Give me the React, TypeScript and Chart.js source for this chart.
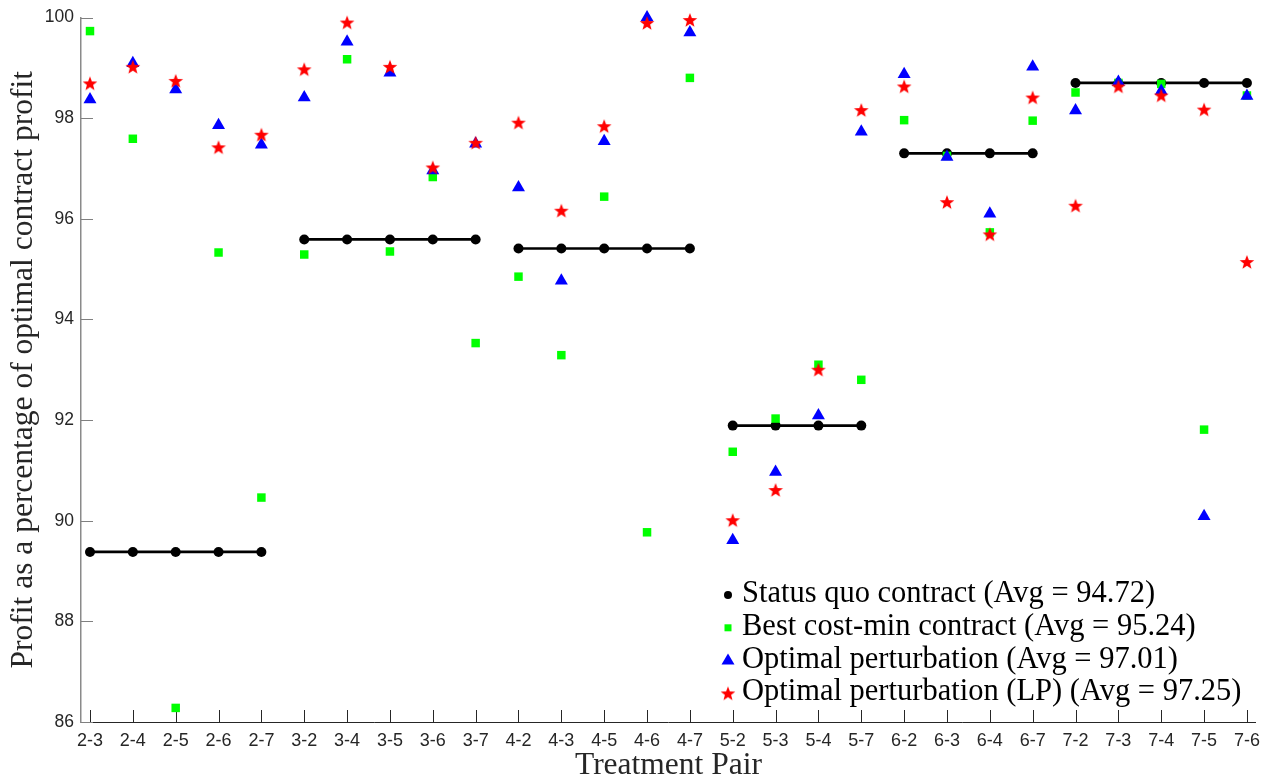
import React, { useEffect, useRef } from "react";
import { Chart, registerables } from "chart.js";

Chart.register(...registerables);

// ---------------- data ----------------
const categories = [
  "2-3", "2-4", "2-5", "2-6", "2-7",
  "3-2", "3-4", "3-5", "3-6", "3-7",
  "4-2", "4-3", "4-5", "4-6", "4-7",
  "5-2", "5-3", "5-4", "5-7",
  "6-2", "6-3", "6-4", "6-7",
  "7-2", "7-3", "7-4", "7-5", "7-6",
];

const statusQuo = [
  89.38, 89.38, 89.38, 89.38, 89.38,
  95.59, 95.59, 95.59, 95.59, 95.59,
  95.41, 95.41, 95.41, 95.41, 95.41,
  91.89, 91.89, 91.89, 91.89,
  97.3, 97.3, 97.3, 97.3,
  98.7, 98.7, 98.7, 98.7, 98.7,
];

const bestCostMin = [
  99.73, 97.59, 86.28, 95.33, 90.46,
  95.29, 99.17, 95.35, 96.83, 93.53,
  94.85, 93.29, 96.44, 89.77, 98.8,
  91.37, 92.03, 93.1, 92.8,
  97.96, 97.25, 95.73, 97.95,
  98.51, 98.7, 98.68, 91.81, 98.45,
];

const optimalPerturbation = [
  98.37, 99.09, 98.57, 97.86, 97.47,
  98.41, 99.52, 98.9, 96.96, 97.49,
  96.62, 94.77, 97.54, 100.0, 99.7,
  89.61, 90.97, 92.09, 97.73,
  98.87, 97.23, 96.1, 99.02,
  98.15, 98.72, 98.54, 90.09, 98.44,
];

const optimalPerturbationLP = [
  98.69, 99.02, 98.74, 97.42, 97.67,
  98.97, 99.9, 99.02, 97.02, 97.51,
  97.91, 96.16, 97.84, 99.89, 99.95,
  90.01, 90.61, 93.0, 98.16,
  98.63, 96.33, 95.69, 98.41,
  96.26, 98.63, 98.45, 98.17, 95.14,
];

const yTicks = [86, 88, 90, 92, 94, 96, 98, 100];

const seriesLabels = [
  "Status quo contract (Avg = 94.72)",
  "Best cost-min contract (Avg = 95.24)",
  "Optimal perturbation (Avg = 97.01)",
  "Optimal perturbation (LP) (Avg = 97.25)",
];

const yTitle = "Profit as a percentage of optimal contract profit";
const xTitle = "Treatment Pair";

// ---------------- helpers ----------------
const SERIF = "'Liberation Serif', 'Times New Roman', serif";
const SANS = "'Liberation Sans', Arial, sans-serif";

function makeStar(size: number, color: string): HTMLCanvasElement {
  const c = document.createElement("canvas");
  c.width = size;
  c.height = size;
  const g = c.getContext("2d")!;
  const cx = size / 2;
  const cy = size / 2 + 0.6;
  const R = size / 2 - 0.3;
  const r = R * 0.42;
  g.beginPath();
  for (let k = 0; k < 10; k++) {
    const ang = -Math.PI / 2 + (k * Math.PI) / 5;
    const rad = k % 2 === 0 ? R : r;
    g.lineTo(cx + rad * Math.cos(ang), cy + rad * Math.sin(ang));
  }
  g.closePath();
  g.fillStyle = color;
  g.fill();
  return c;
}

const toPoints = (arr: number[]) => arr.map((v, i) => ({ x: i, y: v }));

const insideTicks = {
  id: "insideTicks",
  beforeDatasetsDraw(chart: any) {
    const { ctx, chartArea, scales } = chart;
    ctx.save();
    ctx.lineWidth = 1;
    ctx.strokeStyle = "#262626";
    scales.x.ticks.forEach((t: any) => {
      const px = Math.round(scales.x.getPixelForValue(t.value)) + 0.5;
      ctx.beginPath();
      ctx.moveTo(px, chartArea.bottom);
      ctx.lineTo(px, chartArea.bottom - 12);
      ctx.stroke();
    });
    ctx.strokeStyle = "#808080";
    scales.y.ticks.forEach((t: any) => {
      const py = Math.round(scales.y.getPixelForValue(t.value)) + 0.5;
      ctx.beginPath();
      ctx.moveTo(chartArea.left, py);
      ctx.lineTo(chartArea.left + 12, py);
      ctx.stroke();
    });
    ctx.restore();
  },
};

const customLegend = {
  id: "customLegend",
  afterDraw(chart: any, _args: any, opts: any) {
    const { ctx } = chart;
    const { x, y, gap, textOffset, font, color, star } = opts;
    chart.data.datasets.forEach((ds: any, i: number) => {
      const cy = y + i * gap;
      ctx.save();
      if (i === 0) {
        ctx.fillStyle = "#000";
        ctx.beginPath();
        ctx.arc(x, cy, 4, 0, Math.PI * 2);
        ctx.fill();
      } else if (i === 1) {
        ctx.fillStyle = "#00ff00";
        ctx.fillRect(x - 3.5, cy - 3.5, 7, 7);
      } else if (i === 2) {
        ctx.fillStyle = "#0000ff";
        ctx.beginPath();
        ctx.moveTo(x, cy - 7);
        ctx.lineTo(x + 6.5, cy + 4);
        ctx.lineTo(x - 6.5, cy + 4);
        ctx.closePath();
        ctx.fill();
      } else {
        ctx.drawImage(star, x - star.width / 2, cy - star.height / 2);
      }
      ctx.fillStyle = color;
      ctx.font = font;
      ctx.textAlign = "left";
      ctx.textBaseline = "middle";
      ctx.fillText(ds.label, x + textOffset, cy - 1);
      ctx.restore();
    });
  },
};

export default function App() {
  const ref = useRef<HTMLCanvasElement>(null);

  useEffect(() => {
    const star = makeStar(16, "#ff0000");
    const chart = new Chart(ref.current!, {
      type: "scatter",
      data: {
        datasets: [
          {
            type: "line",
            label: seriesLabels[0],
            data: toPoints(statusQuo),
            showLine: true,
            borderColor: "#000",
            borderWidth: 2.6,
            backgroundColor: "#000",
            pointStyle: "circle",
            pointRadius: 5,
            pointBorderWidth: 0,
            clip: false,
            order: 4,
            segment: {
              borderColor: (c: any) =>
                categories[c.p0DataIndex][0] === categories[c.p1DataIndex][0]
                  ? "#000"
                  : "rgba(0,0,0,0)",
            },
          } as any,
          {
            label: seriesLabels[1],
            data: toPoints(bestCostMin),
            pointStyle: "rect",
            pointRadius: 6,
            pointBorderWidth: 0,
            backgroundColor: "#00ff00",
            borderColor: "#00ff00",
            clip: false,
            order: 3,
          } as any,
          {
            label: seriesLabels[2],
            data: toPoints(optimalPerturbation),
            pointStyle: "triangle",
            pointRadius: 7.5,
            pointBorderWidth: 0,
            backgroundColor: "#0000ff",
            borderColor: "#0000ff",
            clip: false,
            order: 2,
          } as any,
          {
            label: seriesLabels[3],
            data: toPoints(optimalPerturbationLP),
            pointStyle: star,
            pointRadius: 8,
            backgroundColor: "#ff0000",
            borderColor: "#ff0000",
            clip: false,
            order: 1,
          } as any,
        ],
      },
      options: {
        responsive: false,
        animation: false,
        devicePixelRatio: 1,
        events: [],
        layout: { padding: { left: 0, right: 6, top: 17, bottom: 0 } },
        plugins: {
          legend: { display: false },
          tooltip: { enabled: false },
          customLegend: {
            x: 728,
            y: 595,
            gap: 32.8,
            textOffset: 14,
            font: `30.5px ${SERIF}`,
            color: "#000",
            star,
          },
        } as any,
        scales: {
          x: {
            type: "linear",
            position: "bottom",
            min: -0.21,
            max: 27.21,
            afterBuildTicks: (scale: any) => {
              scale.ticks = categories.map((_, i) => ({ value: i }));
            },
            afterFit: (scale: any) => {
              scale.height = 54;
            },
            grid: { display: false, drawTicks: false },
            border: { display: true, color: "#262626", width: 1 },
            ticks: {
              autoSkip: false,
              maxRotation: 0,
              minRotation: 0,
              padding: 8,
              color: "#262626",
              font: { family: SANS, size: 18 },
              callback: (v: any) => categories[v] ?? "",
            },
            title: {
              display: true,
              text: xTitle,
              color: "#262626",
              font: { family: SERIF, size: 31.5, lineHeight: 1 },
              padding: { top: 0, bottom: -5 },
            },
          },
          y: {
            type: "linear",
            min: 86,
            max: 100,
            afterBuildTicks: (scale: any) => {
              scale.ticks = yTicks.map((v) => ({ value: v }));
            },
            afterFit: (scale: any) => {
              scale.width = 81;
            },
            grid: { display: false, drawTicks: false },
            border: { display: true, color: "#8a8a8a", width: 1.5 },
            ticks: {
              padding: 7,
              color: "#262626",
              font: { family: SANS, size: 17.5 },
              callback: (v: any) => String(v),
            },
            title: {
              display: true,
              text: yTitle,
              color: "#262626",
              font: { family: SERIF, size: 31.5, lineHeight: 1 },
              padding: { top: 8, bottom: 0 },
            },
          },
        },
      },
      plugins: [insideTicks, customLegend],
    } as any);
    return () => chart.destroy();
  }, []);

  return (
    <div
      style={{
        position: "absolute",
        left: 0,
        top: 0,
        width: 1268,
        height: 776,
        background: "#fff",
      }}
    >
      <canvas ref={ref} width={1268} height={776} style={{ display: "block" }} />
    </div>
  );
}
